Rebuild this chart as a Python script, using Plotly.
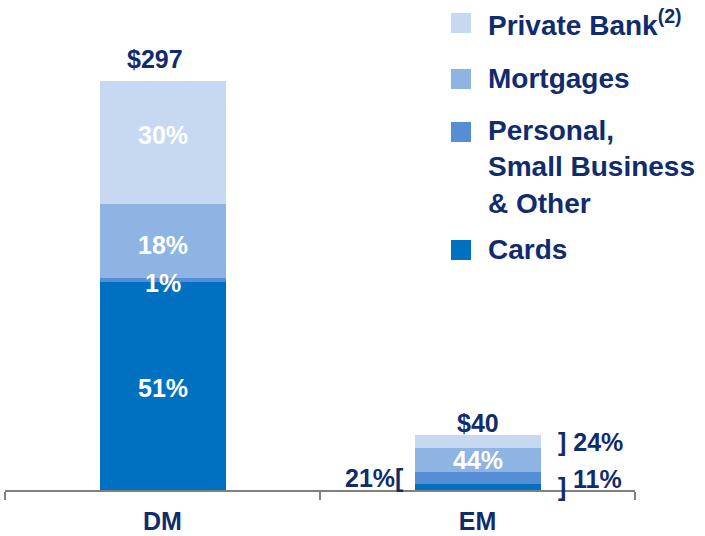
import plotly.graph_objects as go

# ---- data ----
categories = ["DM", "EM"]
totals = [297, 40]
series_names = ["Cards", "Personal,<br>Small Business<br>& Other", "Mortgages", "Private Bank<sup>(2)</sup>"]
cards_pct = [51, 11]
personal_pct = [1, 21]
mortgages_pct = [18, 44]
private_bank_pct = [30, 24]
total_labels = ["$297", "$40"]

colors = ["#0070C0", "#558ED5", "#8DB4E2", "#C6D9F1"]
navy = "#102C6C"
FONT = "Liberation Sans, Arial, sans-serif"
LBL = 25

pcts = [cards_pct, personal_pct, mortgages_pct, private_bank_pct]
values = [[t * p / 100 for t, p in zip(totals, s)] for s in pcts]

W, H = 705, 536
ML, MR, MT, MB = 5, 70, 36, 46
PW, PH = W - ML - MR, H - MT - MB
BAR_W = 0.4

fig = go.Figure()
for name, vals, col in zip(series_names, values, colors):
    fig.add_trace(go.Bar(x=categories, y=vals, name=name, marker_color=col,
                         marker_line_width=0, width=BAR_W, showlegend=False,
                         hoverinfo="skip"))

# cumulative positions for labels
cum = [[0.0] * len(categories) for _ in range(len(values) + 1)]
for i, vals in enumerate(values):
    for j, v in enumerate(vals):
        cum[i + 1][j] = cum[i][j] + v
mid = lambda i, j: (cum[i][j] + cum[i + 1][j]) / 2

ann = []
bold = dict(family=FONT, size=LBL, color="white")
navyf = dict(family=FONT, size=LBL, color=navy)
# DM inside labels
dm_shift = [-2, -3, -4, 8]
for i, s in enumerate(pcts):
    ann.append(dict(x=categories[0], y=mid(i, 0), text=f"<b>{s[0]}%</b>", showarrow=False,
                    font=bold, yshift=dm_shift[i]))
# totals
tot_shift = [6, -4]
for j, c in enumerate(categories):
    ann.append(dict(x=c, y=totals[j], text=f"<b>{total_labels[j]}</b>", showarrow=False,
                    yanchor="bottom", yshift=tot_shift[j], xshift=(-8 if j == 0 else 0), font=navyf))
# EM labels
ann.append(dict(x=1, y=mid(2, 1), text=f"<b>{mortgages_pct[1]}%</b>", showarrow=False, font=bold))
ann.append(dict(x=1 - BAR_W / 2, y=mid(1, 1), text=f"<b>{personal_pct[1]}%[</b>", showarrow=False,
                xanchor="right", xshift=-9, font=navyf))
ann.append(dict(x=1 + BAR_W / 2, y=mid(3, 1), text=f"<b>] {private_bank_pct[1]}%</b>", showarrow=False,
                xanchor="left", xshift=15, font=navyf))
ann.append(dict(x=1 + BAR_W / 2, y=mid(0, 1), text="<b>]</b>", showarrow=False,
                xanchor="left", xshift=15, yshift=0, font=navyf))
ann.append(dict(x=1 + BAR_W / 2, y=mid(0, 1), text=f"<b>{cards_pct[1]}%</b>", showarrow=False,
                xanchor="left", xshift=30, yshift=8, font=navyf))

# legend (custom, in paper coords)
px = lambda x: (x - ML) / PW
py = lambda y: (H - MB - y) / PH
legend_order = [3, 2, 1, 0]
legend_y = [23, 79, 132, 250]
text_y = [23, 79, 167, 249]
shapes = []
for k, idx in enumerate(legend_order):
    cy = legend_y[k]
    shapes.append(dict(type="rect", xref="paper", yref="paper",
                       x0=px(451), x1=px(471), y0=py(cy + 10), y1=py(cy - 10),
                       fillcolor=colors[idx], line_width=0))
    ann.append(dict(xref="paper", yref="paper", x=px(486), y=py(text_y[k]),
                    xanchor="left", yanchor="middle", align="left", showarrow=False,
                    text=f"<b>{series_names[idx]}</b>",
                    font=dict(family=FONT, size=28, color=navy)))

fig.update_layout(
    width=W, height=H, barmode="stack",
    margin=dict(l=ML, r=MR, t=MT, b=MB),
    paper_bgcolor="white", plot_bgcolor="white",
    annotations=ann, shapes=shapes,
    xaxis=dict(range=[-0.5, 1.5], showline=True, linecolor="#808080", linewidth=1.5,
               ticks="outside", tickson="boundaries", ticklen=8, tickwidth=1.5,
               tickcolor="#808080", showgrid=False, zeroline=False, automargin=False,
               tickfont=dict(family=FONT, size=LBL, color=navy),
               tickvals=categories, ticktext=[f"<b>{c}</b>" for c in categories],
               ticklabelstandoff=8),
    yaxis=dict(range=[0, 330], visible=False, showgrid=False, zeroline=False, automargin=False),
    bargap=0.6,
)
fig.write_html("out.html", config={"displayModeBar": False},
               post_script="document.body.style.margin='0';document.body.style.overflow='hidden';")
